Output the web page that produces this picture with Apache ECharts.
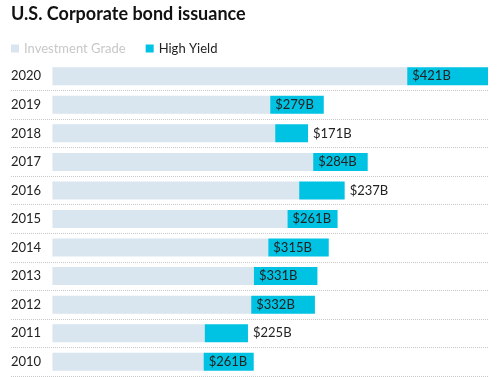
<!DOCTYPE html>
<html>
<head>
<meta charset="utf-8">
<script src="https://cdn.jsdelivr.net/npm/echarts@6/dist/echarts.min.js"></script>
<style>
  html, body { margin: 0; padding: 0; background: #fff; }
  #chart { width: 500px; height: 377px; }
</style>
</head>
<body>
<div id="chart"></div>
<script>
// years, bottom to top
const years = ["2010", "2011", "2012", "2013", "2014", "2015", "2016", "2017", "2018", "2019", "2020"];
// issuance, $B
const investmentGrade = [788, 794, 1036, 1050, 1125, 1225, 1286, 1359, 1161, 1135, 1849];
const highYield = [261, 225, 332, 331, 315, 261, 237, 284, 171, 279, 421];

const totals = investmentGrade.map((v, i) => v + highYield[i]);
const maxTotal = Math.max(...totals);

const FONT = "Lato";

const chart = echarts.init(document.getElementById("chart"));
chart.setOption({
  animation: false,
  title: {
    text: "U.S. Corporate bond issuance",
    left: 6,
    top: 0,
    textStyle: { fontFamily: FONT, fontSize: 18, fontWeight: "bold", color: "#111" }
  },
  legend: {
    left: 6,
    top: 37,
    icon: "rect",
    itemWidth: 8,
    itemHeight: 8,
    itemGap: 20,
    selectedMode: false,
    textStyle: { fontFamily: FONT, fontSize: 13, color: "#222" },
    data: [
      { name: "Investment Grade", textStyle: { color: "#c8c8c8" } },
      { name: "High Yield" }
    ]
  },
  grid: { left: 11, right: 12, top: 62, bottom: 1 },
  xAxis: {
    type: "value",
    show: false,
    min: -Math.round(maxTotal * 0.095),
    max: maxTotal
  },
  yAxis: {
    type: "category",
    data: years,
    axisLine: { show: false },
    axisTick: { show: false },
    axisLabel: {
      inside: true,
      margin: 0,
      fontFamily: FONT,
      fontSize: 13,
      color: "#222"
    },
    splitLine: {
      show: true,
      showMaxLine: false,
      lineStyle: { type: "dotted", color: "#c8c8c8", width: 1 }
    }
  },
  series: [
    {
      name: "Investment Grade",
      type: "bar",
      stack: "total",
      barWidth: 18,
      itemStyle: { color: "#d9e5ef" },
      data: investmentGrade
    },
    {
      name: "High Yield",
      type: "bar",
      stack: "total",
      barWidth: 18,
      itemStyle: { color: "#00c2e3" },
      data: highYield.map(v => ({
        value: v,
        label: { position: v < 250 ? "right" : "insideLeft" }
      })),
      label: {
        show: true,
        distance: 5,
        fontFamily: FONT,
        fontSize: 13,
        color: "#222",
        formatter: p => "$" + p.value + "B"
      }
    }
  ]
});
</script>
</body>
</html>
